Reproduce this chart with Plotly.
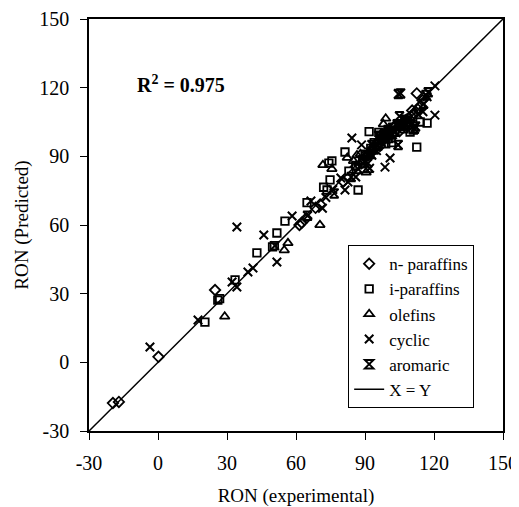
import plotly.graph_objects as go

# n-paraffins
npar_x = [-19.6, -17.0, 0.2, 24.8, 61.5, 62.5, 64.5, 68.5, 70.5, 80.5, 86, 88.5, 90, 91.5, 93, 94, 95, 96.5, 97.5, 99,
          100, 101.5, 103, 104, 106, 108, 110, 110.5, 111.5, 112.5, 113, 114, 115, 109, 105]
npar_y = [-17.8, -17.3, 2.4, 31.6, 60.0, 61.0, 63.0, 67.5, 69.0, 79.0, 85.5, 87.0, 89.5, 90.5, 92.0, 93.5, 95.0, 94.5, 97.0, 99.0,
          100.5, 99.5, 103.0, 102.0, 104.5, 106.0, 107.5, 110.0, 108.5, 117.5, 110.5, 112.0, 114.5, 103.5, 101.0]
# i-paraffins
ipar_x = [20.4, 26.0, 26.8, 33.5, 43.0, 49.8, 50.6, 51.7, 55.2, 64.8, 73.5, 74.8, 75.6, 72.0, 74.3, 81.3, 83.0, 87.0, 86.0, 89.0,
          91.8, 90.0, 92.5, 94, 95.5, 97, 98.5, 100, 101.5, 103, 105, 107, 109.6, 112.5, 117.0, 111, 114, 96, 99]
ipar_y = [17.6, 27.2, 27.8, 36.0, 47.8, 50.4, 51.0, 56.5, 61.7, 69.8, 75.3, 79.7, 88.0, 76.5, 87.0, 91.9, 83.5, 75.3, 86.0, 88.5,
          100.8, 91.0, 93.5, 96, 94.5, 99, 97.5, 101, 96.0, 100.5, 103, 102, 100.6, 94.0, 104.5, 101.5, 105, 100.5, 95.5]
# olefins
ole_x = [29.0, 54.9, 56.5, 70.4, 71.7, 75.6, 82.3, 91.3, 90.5, 99.0, 86.5, 88, 93, 95, 97, 98, 101, 103, 85, 100]
ole_y = [20.0, 49.0, 52.1, 60.0, 86.2, 84.5, 89.4, 84.0, 83.0, 106.5, 90.5, 91, 94, 96.5, 100, 104, 101.5, 104, 88.0, 99]
# cyclic
cyc_x = [-3.5, 17.4, 32.2, 34.3, 34.3, 39.1, 41.3, 46.0, 51.7, 50.8, 58.3, 66.5, 71.5, 73, 81.3, 82.6, 84.3, 86, 88.5, 91.3,
         92, 98.7, 100.9, 104.4, 115.2, 120.4, 120.4, 90, 93, 95, 97, 99, 102, 106, 108, 110, 113, 117, 79.5, 76]
cyc_y = [6.7, 18.5, 35.1, 32.9, 59.1, 39.5, 41.2, 55.6, 43.8, 51.0, 63.9, 70.5, 67.3, 72, 75.3, 78.8, 98.0, 81.0, 95.0, 87.0,
         84.8, 85.3, 89.3, 95.0, 109.5, 108.0, 120.8, 88, 90.5, 92.5, 96, 97, 99.5, 103, 106, 104, 108.5, 116, 80.5, 75.5]
# aromatic
aro_x = [104.5, 105.5, 116.5, 115.5, 105, 104.4, 76.6, 65, 84, 87, 89, 91, 92.5, 94, 95.5, 97, 98, 99, 100, 101,
         102, 103, 104, 106, 107, 108.5, 110, 111.5, 112, 117.5, 96, 93, 100.5]
aro_y = [117.2, 117.5, 116.8, 113.0, 107.5, 95.0, 73.8, 64, 81, 84.5, 87, 90.5, 91, 93, 95, 97, 98.5, 100, 101.5, 100,
         102.5, 101, 104, 103.5, 106, 105, 104, 102, 103, 118, 99, 95, 98]

line_xy = [-30, 150]
ticks = [-30, 0, 30, 60, 90, 120, 150]
tick_labels = ["-30", "0", "30", "60", "90", "120", "150"]

FONT = "Liberation Serif, Times New Roman, serif"

fig = go.Figure()
series = [
    ("n- paraffins", npar_x, npar_y, "diamond-open", 8, 1.8),
    ("i-paraffins", ipar_x, ipar_y, "square-open", 7.5, 1.8),
    ("olefins", ole_x, ole_y, "triangle-up-open", 8.5, 1.8),
    ("cyclic", cyc_x, cyc_y, "x-thin-open", 8.5, 2),
    ("aromaric", aro_x, aro_y, "hourglass-open", 8.5, 2),
]
for name, xs, ys, sym, sz, lw in series:
    fig.add_trace(go.Scatter(x=xs, y=ys, mode="markers", name=name,
                             marker=dict(symbol=sym, size=sz, color="black",
                                         line=dict(color="black", width=lw))))
fig.add_trace(go.Scatter(x=line_xy, y=line_xy, mode="lines", name="X = Y",
                         line=dict(color="black", width=1.5)))

axis_common = dict(range=[-30, 150], tickvals=ticks, ticktext=tick_labels, showgrid=False, zeroline=False,
                   showline=True, linecolor="black", linewidth=1.5, mirror=True, automargin=False,
                   ticks="outside", ticklen=7, tickcolor="black", tickwidth=1.2,
                   tickfont=dict(family=FONT, size=20, color="black"))
fig.update_xaxes(**axis_common, ticklabelstandoff=6,
                 title=dict(text="RON (experimental)", standoff=21,
                            font=dict(family=FONT, size=19, color="black")))
fig.update_yaxes(**axis_common, ticklabelstandoff=7,
                 title=dict(text="RON (Predicted)", standoff=6,
                            font=dict(family=FONT, size=19, color="black")))

fig.add_annotation(x=0.112, y=0.842, xref="paper", yref="paper", xanchor="left", yanchor="middle",
                   text="<b>R<sup>2</sup> = 0.975</b>", showarrow=False,
                   font=dict(family=FONT, size=20, color="black"))

# page body has an 8px margin, so the figure is offset by 8px
fig.update_layout(
    width=511, height=499,
    margin=dict(l=81, r=16, t=11, b=76),
    paper_bgcolor="white", plot_bgcolor="white",
    font=dict(family=FONT, color="black"),
    legend=dict(x=0.626, y=0.451, xanchor="left", yanchor="top",
                bgcolor="white", bordercolor="black", borderwidth=1,
                font=dict(family=FONT, size=17, color="black"),
                tracegroupgap=0, itemwidth=30),
    showlegend=True,
)
fig.write_html("out.html")
